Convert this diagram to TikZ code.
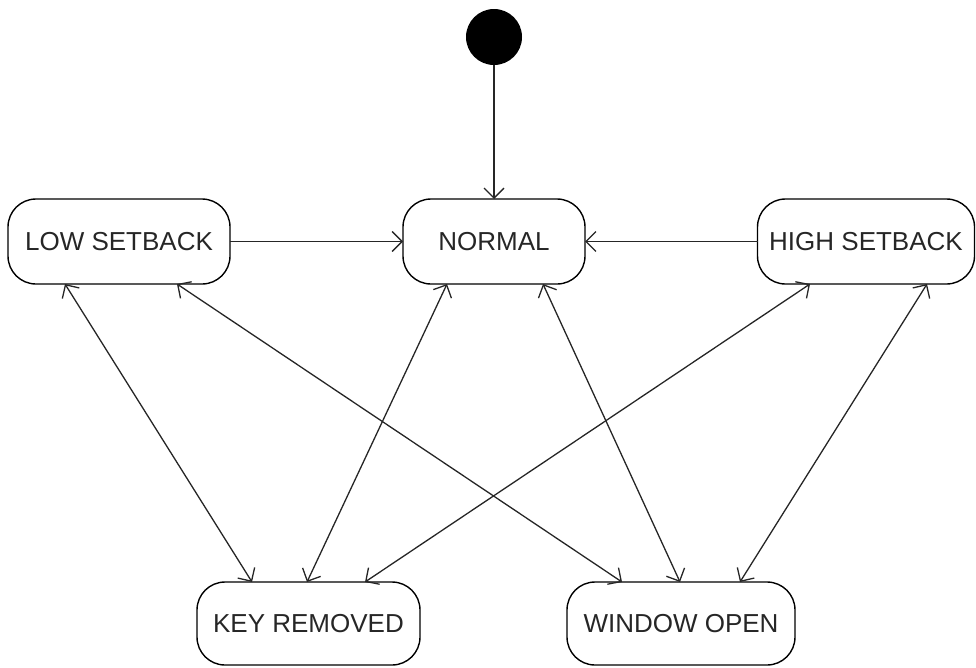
\documentclass[tikz,border=0pt]{standalone}
\usepackage{fontspec}
\setmainfont{Liberation Sans}
\usetikzlibrary{arrows.meta}
\begin{document}
\begin{tikzpicture}[x=1pt,y=-1pt,
  state/.style={draw=black, line width=1.4pt, rounded corners=28pt, inner sep=0pt, outer sep=0pt,
    font=\fontsize{26}{30}\selectfont, text=black!85},
  conn/.style={line width=1.3pt, black!85},
  tip/.tip={Straight Barb[length=10pt,width=20pt,line width=1.3pt]}]
\useasboundingbox (0,0) rectangle (976,667);
\node[state, minimum width=222pt, minimum height=85pt] (low) at (119,241.5) {LOW SETBACK};
\node[state, minimum width=182pt, minimum height=85pt] (normal) at (494,241.5) {NORMAL};
\node[state, minimum width=217pt, minimum height=85pt] (high) at (866,241.5) {HIGH SETBACK};
\node[state, minimum width=223pt, minimum height=83pt] (key) at (308.5,623.5) {KEY REMOVED};
\node[state, minimum width=228pt, minimum height=83pt] (window) at (681,623.5) {WINDOW OPEN};
\node[circle, fill=black, minimum size=56pt, inner sep=0pt, outer sep=0pt] (init) at (494,37) {};

\draw[conn,-tip] (init) -- (normal);
\draw[conn,-tip] (low) -- (normal);
\draw[conn,-tip] (high) -- (normal);

\draw[conn,tip-tip] ([xshift=-54pt]low.south) -- ([xshift=-56.5pt]key.north);
\draw[conn,tip-tip] ([xshift=58pt]low.south) -- ([xshift=-59pt]window.north);
\draw[conn,tip-tip] ([xshift=-47pt]normal.south) -- ([xshift=-1.5pt]key.north);
\draw[conn,tip-tip] ([xshift=49pt]normal.south) -- ([xshift=-1pt]window.north);
\draw[conn,tip-tip] ([xshift=-56pt]high.south) -- ([xshift=56.5pt]key.north);
\draw[conn,tip-tip] ([xshift=61pt]high.south) -- ([xshift=59pt]window.north);
\end{tikzpicture}
\end{document}
